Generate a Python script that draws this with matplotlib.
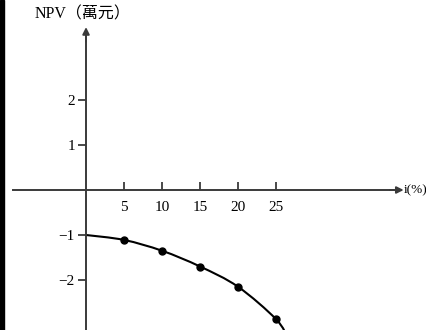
import matplotlib
matplotlib.use("Agg")
import matplotlib.pyplot as plt
from matplotlib.patches import Rectangle, PathPatch
from matplotlib.path import Path

# NPV 曲线数据 (i 单位 %, NPV 单位 萬元)
rate = [0, 5, 10, 15, 20, 25, 26.6]
npv = [-1.0, -1.11, -1.35, -1.70, -2.15, -2.87, -3.30]
marker_rate = [5, 10, 15, 20, 25]
marker_npv = [-1.11, -1.35, -1.70, -2.15, -2.87]

xticks = [5, 10, 15, 20, 25]
xticklabels = ["5", "10", "15", "20", "25"]
yticks = [-2, -1, 1, 2]
yticklabels = ["\u22122", "\u22121", "1", "2"]

serif = ["Liberation Serif", "Noto Sans CJK TC", "DejaVu Sans"]
axis_color = "#3a3a3a"


def smooth_path(xs, ys):
    # Catmull-Rom 转成三次贝塞尔，曲线经过每个点
    pts = list(zip(xs, ys))
    verts = [pts[0]]
    codes = [Path.MOVETO]
    n = len(pts)
    for k in range(n - 1):
        p0 = pts[k - 1] if k > 0 else pts[k]
        p1 = pts[k]
        p2 = pts[k + 1]
        p3 = pts[k + 2] if k + 2 < n else pts[k + 1]
        c1 = (p1[0] + (p2[0] - p0[0]) / 6, p1[1] + (p2[1] - p0[1]) / 6)
        c2 = (p2[0] - (p3[0] - p1[0]) / 6, p2[1] - (p3[1] - p1[1]) / 6)
        verts += [c1, c2, p2]
        codes += [Path.CURVE4] * 3
    return Path(verts, codes)


fig = plt.figure(figsize=(4.27, 3.30), dpi=100)
ax = fig.add_axes([0, 0, 1, 1])
ax.set_xlim(-11.32, 44.87)
ax.set_ylim(-3.111, 4.222)

# 坐标轴放在原点处
for side in ["top", "right"]:
    ax.spines[side].set_visible(False)
ax.spines["left"].set_position(("data", 0))
ax.spines["bottom"].set_position(("data", 0))
ax.spines["left"].set_bounds(-3.2, 3.5)
ax.spines["bottom"].set_bounds(-9.6, 41.0)
for side in ["left", "bottom"]:
    ax.spines[side].set_color(axis_color)
    ax.spines[side].set_linewidth(1.4)

# 箭头
ax.annotate("", xy=(41.8, 0), xytext=(40.0, 0),
            arrowprops=dict(arrowstyle="-|>", color=axis_color, lw=1.4,
                            mutation_scale=10, shrinkA=0, shrinkB=0))
ax.annotate("", xy=(0, 3.62), xytext=(0, 3.3),
            arrowprops=dict(arrowstyle="-|>", color=axis_color, lw=1.4,
                            mutation_scale=10, shrinkA=0, shrinkB=0))

ax.set_xticks(xticks)
ax.set_xticklabels(xticklabels, family=serif, fontsize=11)
ax.set_yticks(yticks)
ax.set_yticklabels(yticklabels, family=serif, fontsize=11)
ax.tick_params(axis="x", direction="in", length=6, width=1.3,
               color=axis_color, pad=8)
ax.tick_params(axis="y", direction="out", length=6, width=1.3,
               color=axis_color, pad=2)

# NPV 曲线
ax.add_patch(PathPatch(smooth_path(rate, npv), facecolor="none",
                       edgecolor="black", lw=1.5))
ax.plot(marker_rate, marker_npv, "o", color="black", ms=5)

ax.text(0.945, 0.424, "i(%)", transform=ax.transAxes, family=serif,
        fontsize=9.5, va="center", ha="left")
ax.text(0.082, 0.955, "NPV（萬元）", transform=ax.transAxes, family=serif,
        fontsize=11.5, va="center", ha="left")

# 左侧黑边
fig.add_artist(Rectangle((0, 0), 4 / 427, 1, transform=fig.transFigure,
                         color="black", zorder=10))

fig.savefig("out.png", dpi=100)
